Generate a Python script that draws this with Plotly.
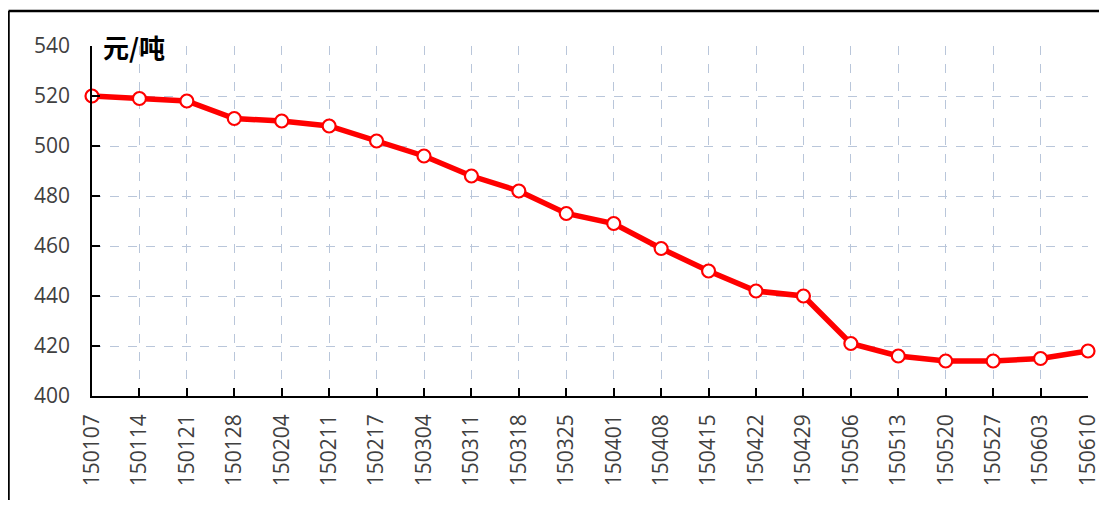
import plotly.graph_objects as go

dates = ["150107", "150114", "150121", "150128", "150204", "150211", "150217",
         "150304", "150311", "150318", "150325", "150401", "150408", "150415",
         "150422", "150429", "150506", "150513", "150520", "150527", "150603", "150610"]
prices = [520, 519, 518, 511, 510, 508, 502, 496, 488, 482, 473, 469, 459, 450,
          442, 440, 421, 416, 414, 414, 415, 418]
y_ticks = [400, 420, 440, 460, 480, 500, 520, 540]
unit_label = "元/吨"

# page has an 8px body margin, so the figure is placed at (8, 8)
W, H = 1099, 492
L, R, T, B = 84, 19, 38, 104

fig = go.Figure()
fig.add_trace(go.Scatter(
    x=dates, y=prices, mode="lines+markers",
    line=dict(color="#ff0000", width=5.5),
    marker=dict(symbol="circle", size=13, color="white",
                line=dict(color="#ff0000", width=2.2)),
    cliponaxis=False, showlegend=False, hoverinfo="x+y"))

grid_col = "#b9c6da"
tick_font = dict(family="Open Sans, Liberation Sans, sans-serif", size=21, color="#404040")

fig.update_xaxes(type="category", range=[0, len(dates) - 1], automargin=False,
                 showline=True, linecolor="black", linewidth=1.5,
                 ticks="inside", ticklen=8, tickcolor="black", tickwidth=1.5,
                 showgrid=True, gridcolor=grid_col, griddash="dash", gridwidth=1,
                 tickangle=-90, tickfont=tick_font, ticklabelstandoff=8,
                 zeroline=False, fixedrange=True)
fig.update_yaxes(range=[400, 540], tickvals=y_ticks, automargin=False,
                 showline=True, linecolor="black", linewidth=1.5,
                 ticks="inside", ticklen=8, tickcolor="black", tickwidth=1.5,
                 showgrid=True, gridcolor=grid_col, griddash="dash", gridwidth=1,
                 tickfont=tick_font, ticklabelstandoff=16,
                 zeroline=False, fixedrange=True)

pw = W - L - R
ph = H - T - B
bx = (0.5 - L) / pw
by = (H - B - 3) / ph
fig.add_shape(type="line", xref="paper", yref="paper", x0=bx, x1=bx, y0=-1, y1=by,
              line=dict(color="black", width=2.5))
fig.add_shape(type="line", xref="paper", yref="paper", x0=bx, x1=1.2, y0=by, y1=by,
              line=dict(color="black", width=2.5))

fig.add_annotation(text=unit_label, xref="paper", yref="paper",
                   x=(93 - L) / pw, y=1.0, xanchor="left", yanchor="middle",
                   showarrow=False,
                   font=dict(family="Noto Sans CJK SC", size=26, color="black", weight="bold"))

fig.update_layout(width=W, height=H, margin=dict(l=L, r=R, t=T, b=B),
                  paper_bgcolor="white", plot_bgcolor="white")
fig.write_html("out.html")
